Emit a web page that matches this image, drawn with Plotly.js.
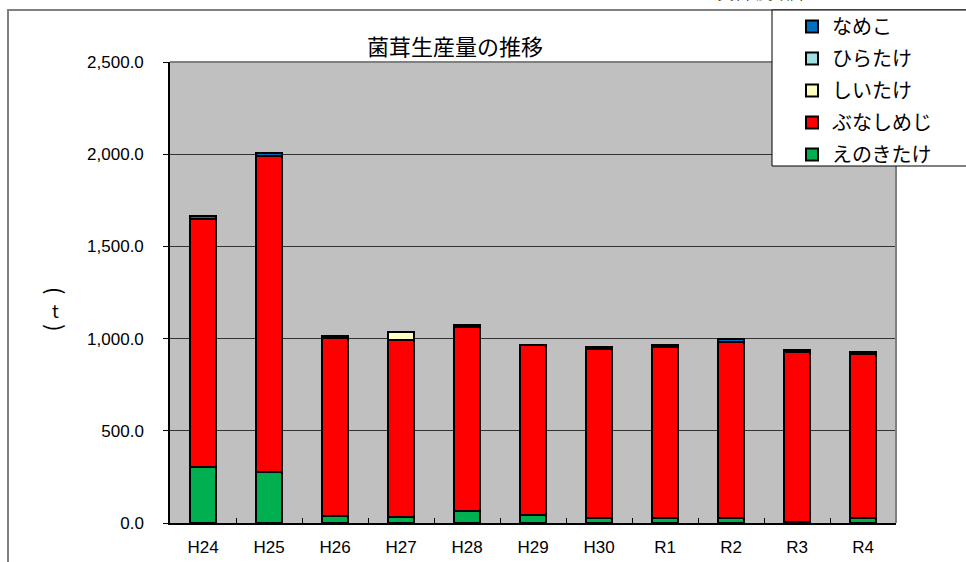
<!DOCTYPE html>
<html>
<head>
<meta charset="utf-8">
<script src="https://cdn.plot.ly/plotly-3.0.1.min.js"></script>
<style>html,body{margin:0;padding:0;background:#fff;}#chart{width:966px;height:562px;}</style>
</head>
<body>
<div id="chart"></div>
<script>
// Categories (fiscal years)
const years = ["H24","H25","H26","H27","H28","H29","H30","R1","R2","R3","R4"];
// Production (t) by mushroom type
const enokitake   = [305, 274, 37, 30, 64, 41, 25, 25, 26, 5, 25];
const bunashimeji = [1343, 1717, 968, 965, 1000, 922, 920, 932, 958, 922, 893];
const shiitake    = [0, 0, 0, 39, 0, 0, 0, 0, 0, 0, 0];
const hiratake    = [0, 0, 0, 0, 0, 0, 0, 0, 0, 0, 0];
const nameko      = [16, 15, 8, 1, 11, 3, 11, 11, 13, 11, 7];
const seriesNames  = ["えのきたけ","ぶなしめじ","しいたけ","ひらたけ","なめこ"];
const seriesColors = ["#00B050","#FF0000","#FFFFC0","#A0E0E0","#0070C0"];
const yTicks = [0, 500, 1000, 1500, 2000, 2500];

const seriesData = [enokitake, bunashimeji, shiitake, hiratake, nameko];
const traces = seriesData.map((vals, i) => ({
  type: "bar",
  x: years,
  y: vals,
  name: seriesNames[i],
  legendgroup: "g" + i,
  legendrank: 5 - i,
  marker: {color: seriesColors[i], line: {color: "#000000", width: 2}},
  hoverinfo: "x+y+name"
}));

const jp = "'Noto Sans CJK JP', 'Noto Sans', sans-serif";
const num = "'Liberation Sans', Arial, sans-serif";
const px = v => (v - 170) / 726;      // page x -> paper x
const py = v => (523 - v) / 461;      // page y -> paper y

const layout = {
  width: 966, height: 562,
  margin: {l: 170, r: 70, t: 62, b: 39, autoexpand: false},
  paper_bgcolor: "#ffffff",
  plot_bgcolor: "#C0C0C0",
  barmode: "stack",
  bargap: 0.62,
  showlegend: true,
  title: {
    text: "菌茸生産量の推移",
    font: {family: jp, size: 22, color: "#000"},
    x: px(455), xref: "paper", xanchor: "center",
    y: 1 - 47/562, yref: "container", yanchor: "middle",
    automargin: false
  },
  xaxis: {
    type: "category",
    tickfont: {family: num, size: 17, color: "#000"},
    showline: true, linecolor: "#000", linewidth: 1.5,
    ticks: "inside", tickson: "boundaries", ticklen: 5, tickcolor: "#000", tickwidth: 1,
    ticklabelstandoff: 8,
    showgrid: false, zeroline: false,
    fixedrange: true
  },
  yaxis: {
    range: [0, 2500],
    tickvals: yTicks,
    tickformat: ",.1f",
    tickfont: {family: num, size: 17, color: "#000"},
    showline: true, linecolor: "#000", linewidth: 1.5,
    ticks: "outside", ticklen: 5, tickcolor: "#000", tickwidth: 1,
    ticklabelstandoff: 16,
    showgrid: true, gridcolor: "#333333", gridwidth: 1,
    zeroline: false,
    fixedrange: true
  },
  legend: {
    x: px(792), xref: "paper", xanchor: "left",
    y: py(7), yref: "paper", yanchor: "top",
    bgcolor: "rgba(0,0,0,0)", borderwidth: 0,
    font: {family: jp, size: 20, color: "#000"},
    traceorder: "grouped",
    tracegroupgap: 3,
    itemwidth: 30
  },
  shapes: [
    // outer chart frame (clipped by page edge)
    {type: "rect", xref: "paper", yref: "paper",
     x0: px(8), x1: 1.3, y0: -0.3, y1: py(10),
     line: {color: "#808080", width: 2}, fillcolor: "rgba(0,0,0,0)", layer: "below"},
    // plot area top and right edges
    {type: "line", xref: "paper", yref: "paper", x0: 0, x1: 1, y0: 1, y1: 1,
     line: {color: "#808080", width: 2}},
    {type: "line", xref: "paper", yref: "paper", x0: 1, x1: 1, y0: 0, y1: 1,
     line: {color: "#808080", width: 2}},
    // legend box (extends past right page edge)
    {type: "rect", xref: "paper", yref: "paper",
     x0: px(772), x1: px(1000), y0: py(166), y1: py(10),
     line: {color: "#000000", width: 1}, fillcolor: "#ffffff", layer: "above"}
  ],
  annotations: [
    {text: "(", textangle: 90, xref: "paper", yref: "paper",
     x: px(57), y: py(290), xanchor: "center", yanchor: "middle",
     showarrow: false, font: {family: jp, size: 22, color: "#000"}},
    {text: "t", xref: "paper", yref: "paper",
     x: px(55), y: py(310), xanchor: "center", yanchor: "middle",
     showarrow: false, font: {family: jp, size: 18, color: "#000"}},
    {text: ")", textangle: 90, xref: "paper", yref: "paper",
     x: px(57), y: py(327), xanchor: "center", yanchor: "middle",
     showarrow: false, font: {family: jp, size: 22, color: "#000"}},
    {text: "（資料:農政課）", xref: "paper", yref: "paper",
     x: px(826), y: py(6), xanchor: "right", yanchor: "bottom",
     showarrow: false, font: {family: jp, size: 17, color: "#000"}}
  ]
};

Plotly.newPlot("chart", traces, layout, {displayModeBar: false});
</script>
</body>
</html>
